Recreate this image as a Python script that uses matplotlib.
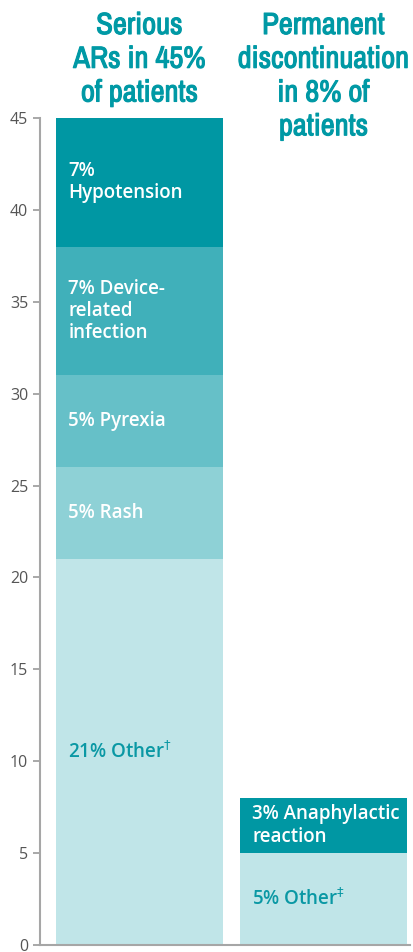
import numpy as np
import matplotlib.pyplot as plt
import matplotlib.patheffects as pe
from matplotlib import font_manager

# ========= data =========
bars = ["Serious\nARs in 45%\nof patients", "Permanent\ndiscontinuation\nin 8% of\npatients"]
left_labels = ["21% Other$^{\\dagger}$", "5% Rash", "5% Pyrexia", "7% Device-\nrelated\ninfection", "7%\nHypotension"]
left_values = [21, 5, 5, 7, 7]
right_labels = ["5% Other$^{\\ddagger}$", "3% Anaphylactic\nreaction"]
right_values = [5, 3]
yticks = [0, 5, 10, 15, 20, 25, 30, 35, 40, 45]

# ========= style =========
teal = "#0a98a4"
left_colors = ["#c0e5e8", "#8ed1d6", "#66c0c8", "#40b0ba", "#0097a3"]
right_colors = ["#c0e5e8", "#0097a3"]
left_text = [teal, "white", "white", "white", "white"]
right_text = [teal, "white"]

plt.rcParams["font.family"] = ["Open Sans", "DejaVu Sans"]

# narrow font for the titles if one is around
narrow = sorted({f.name for f in font_manager.fontManager.ttflist
                 if "Narrow" in f.name or "Condensed" in f.name})
title_family = narrow[:1] + ["Roboto", "DejaVu Sans"]

fig = plt.figure(figsize=(4.13, 9.52), dpi=100)
ax = fig.add_axes([40 / 413, 7 / 952, 370 / 413, 827 / 952])

width = 0.908


def draw_stack(x, values, colors, labels, tcolors):
    bottom = 0
    for v, c, lab, tc in zip(values, colors, labels, tcolors):
        ax.bar(x, v, bottom=bottom, width=width, color=c, edgecolor="none", align="center")
        ax.text(x - width / 2 + 0.065, bottom + v / 2, lab, ha="left", va="center",
                color=tc, fontsize=13.5, fontweight="semibold", linespacing=1.15)
        bottom += v


draw_stack(0, left_values, left_colors, left_labels, left_text)
draw_stack(1, right_values, right_colors, right_labels, right_text)

ax.set_xlim(-0.543, 1.47)
ax.set_ylim(0, 45)
ax.set_yticks(yticks)
ax.set_xticks([])
ax.tick_params(axis="y", colors="#9a9a9a", labelcolor="#555555", labelsize=11.5, length=5, width=1.2)
for s in ["top", "right"]:
    ax.spines[s].set_visible(False)
for s in ["left", "bottom"]:
    ax.spines[s].set_color("#a6a6a6")
    ax.spines[s].set_linewidth(1.5)

# titles above each bar (light stroke to thicken the narrow face)
renderer = fig.canvas.get_renderer()
for i, t in enumerate(bars):
    xf = (40 + (i * 184 + 99.5)) / 413
    txt = fig.text(xf, 1 - 11 / 952, t, ha="center", va="top", color="#0099a5", fontsize=22,
                   fontweight="bold", linespacing=1.25, family=title_family,
                   path_effects=[pe.withStroke(linewidth=0.8, foreground="#0099a5")])
    w = txt.get_window_extent(renderer).width
    if w > 174:
        txt.set_fontsize(22 * 174 / w)
        txt.set_linespacing(1.25 * w / 174)

fig.savefig("out.png", dpi=100)
